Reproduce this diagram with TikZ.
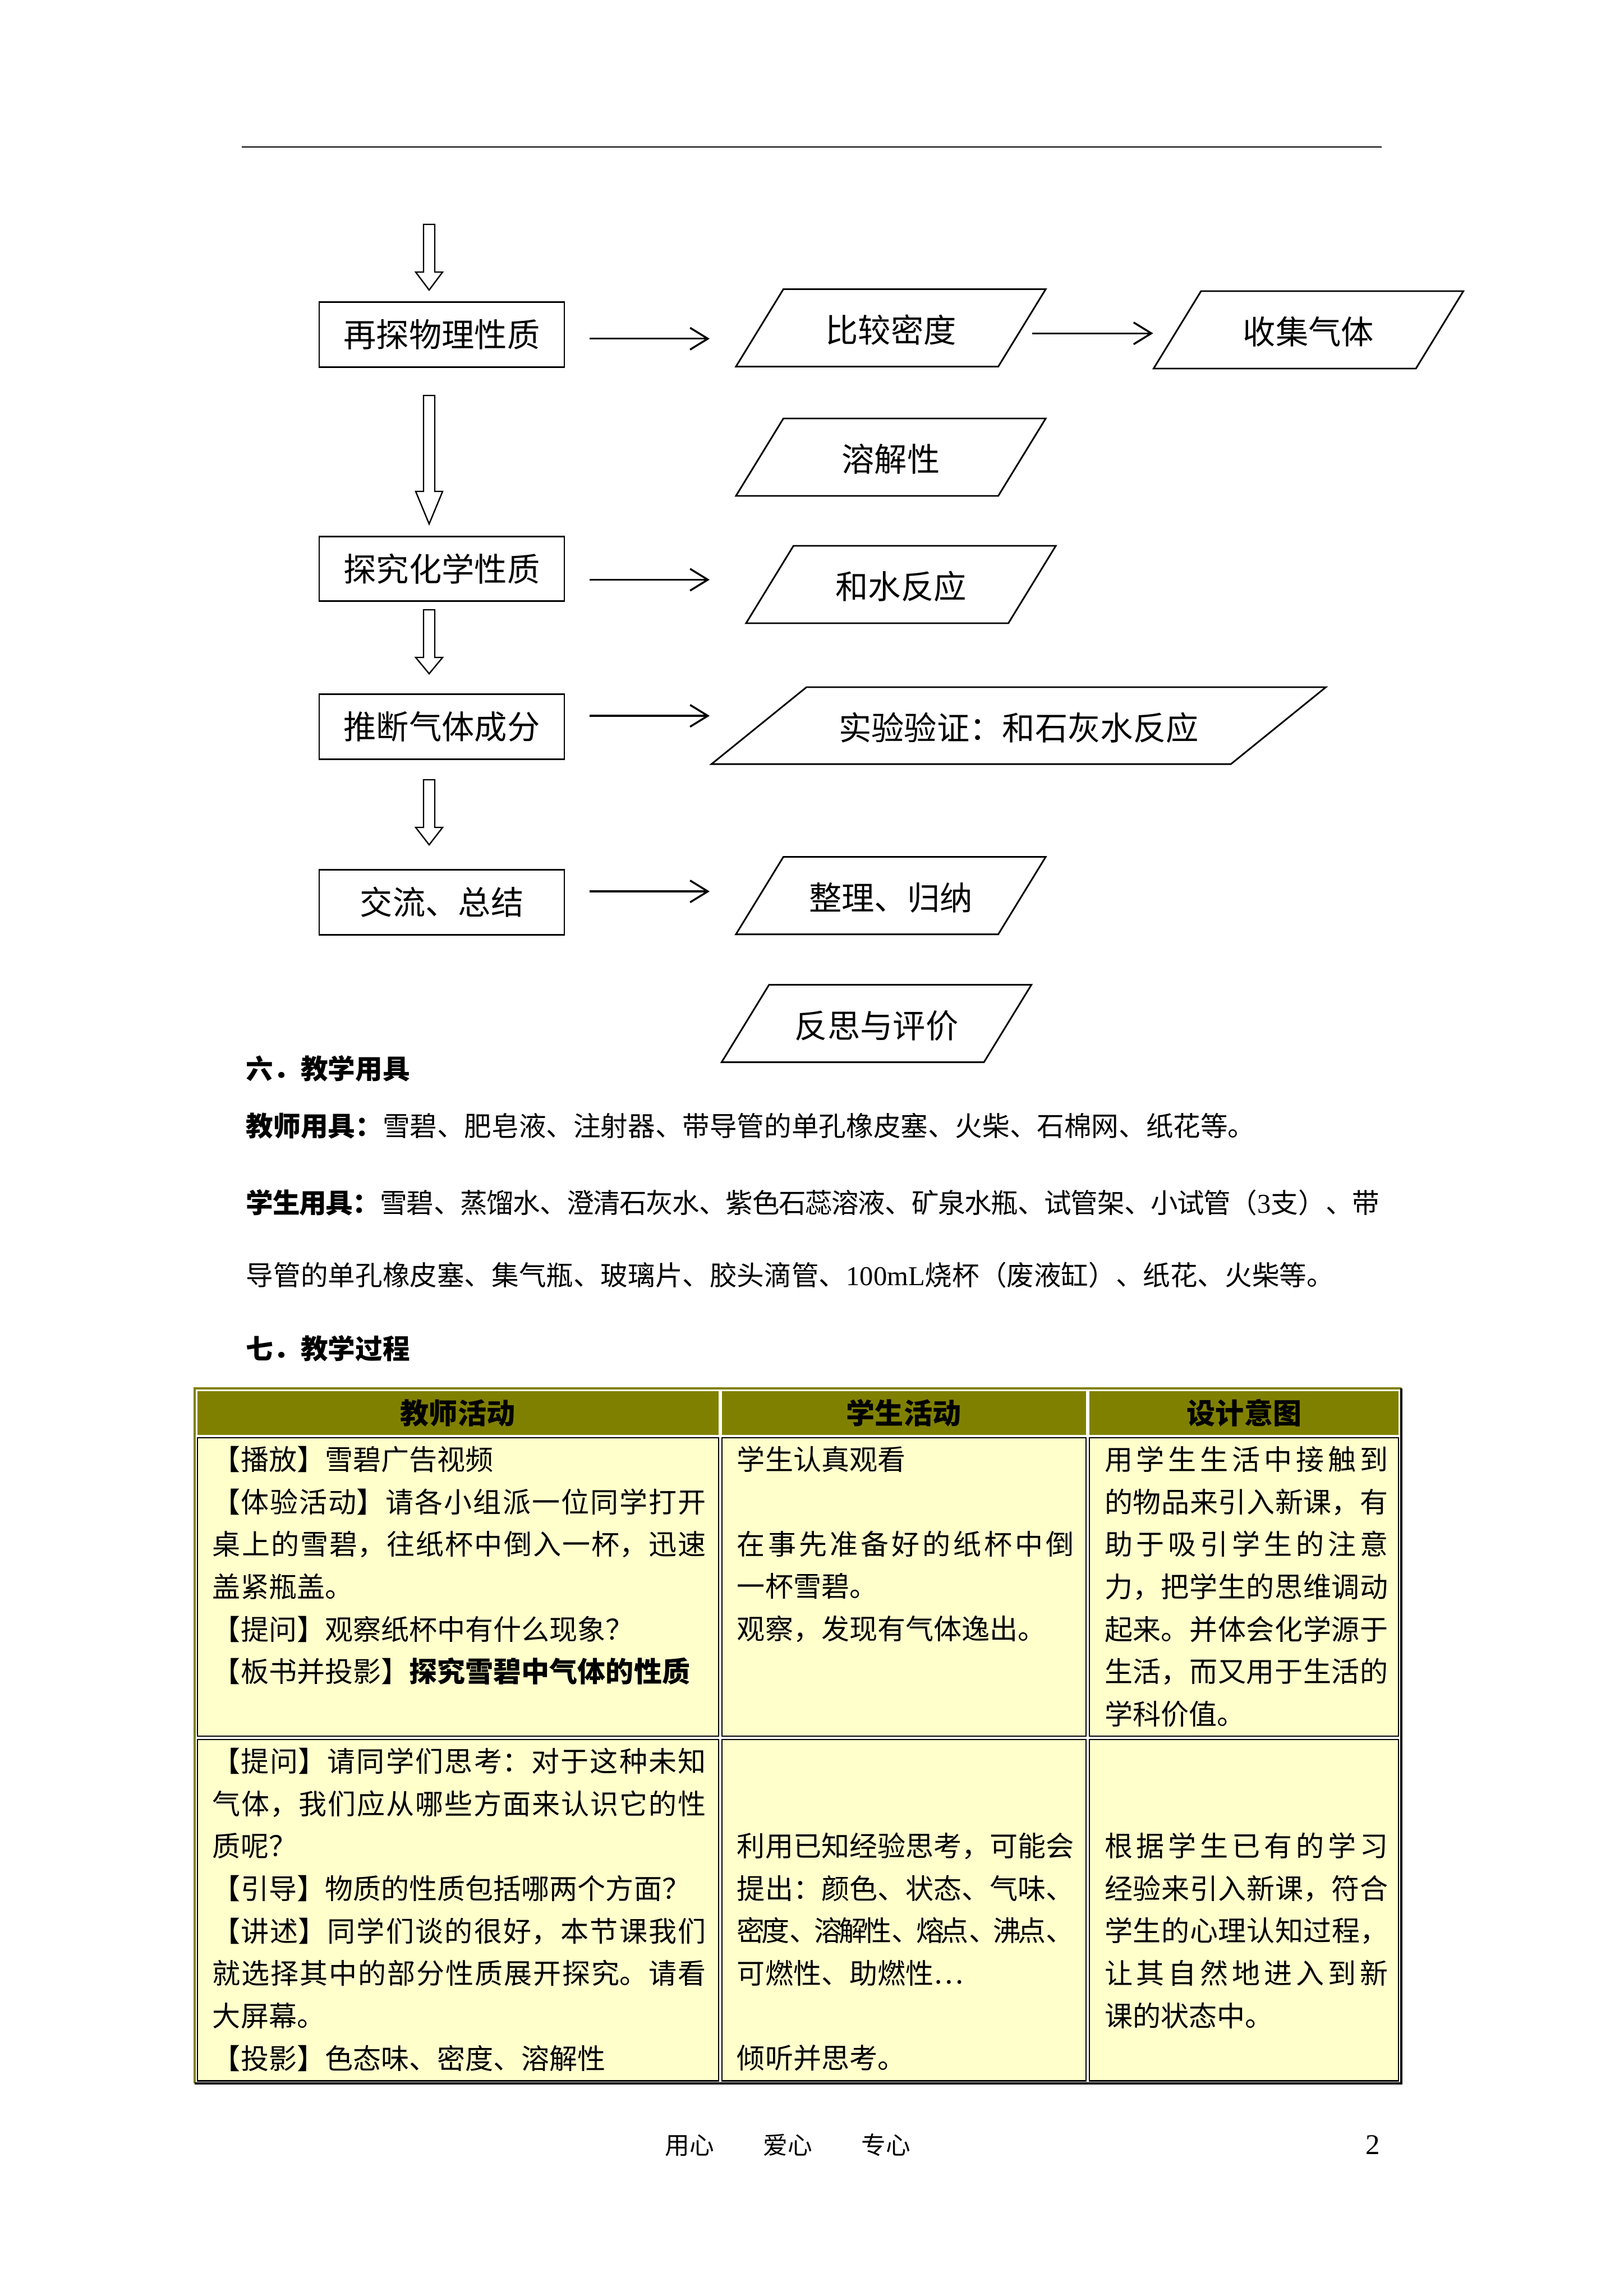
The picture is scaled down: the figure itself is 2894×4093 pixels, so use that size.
\documentclass[tikz,border=0pt]{standalone}
\usepackage{fontspec}
\setmainfont{Noto Sans CJK SC}
\newfontfamily\latin{Liberation Serif}
\XeTeXlinebreaklocale "zh"
\XeTeXlinebreakskip=0pt plus 2pt minus 1.5pt
\usepackage{tikz}
\usetikzlibrary{arrows.meta, positioning, shapes.geometric, calc}
\definecolor{olivehd}{RGB}{128,128,0}
\definecolor{cellyel}{RGB}{255,255,204}
% hollow block arrow: top, tip, head length
\newcommand{\hollowdown}[3]{%
  \draw[hollowarr] ($(#1)+(-10,0)$) -- ($(#2)+(-10,-#3)$) -- ($(#2)+(-24,-#3)$) -- (#2)
    -- ($(#2)+(24,-#3)$) -- ($(#2)+(10,-#3)$) -- ($(#1)+(10,0)$) -- cycle;}

\begin{document}
\begin{tikzpicture}[x=0.20572pt, y=-0.20572pt,
  procbox/.style={draw, line width=0.6pt, minimum width=89.9pt, minimum height=23.7pt, inner sep=0pt, font=\fontsize{12pt}{14pt}\selectfont},
  databox/.style={trapezium, trapezium left angle=58.5, trapezium right angle=121.5, trapezium stretches body, draw, line width=0.6pt, minimum width=113.6pt, text height=10.5pt, text depth=0pt, inner xsep=0pt, inner ysep=8.95pt, font=\fontsize{12pt}{14pt}\selectfont},
  rarr/.style={-{Straight Barb[length=6.5pt,width=8pt]}, line width=0.7pt},
  hollowarr/.style={draw, line width=0.5pt, fill=white},
  bodytxt/.style={inner sep=0pt, font=\fontsize{10pt}{26.7pt}\selectfont},
  celltxt/.style={anchor=north west, inner sep=0pt, align=justify, font=\fontsize{10.3pt}{15.57pt}\selectfont},
  headtxt/.style={inner sep=0pt, font=\fontsize{10.5pt}{12pt}\selectfont\bfseries},
  bodycell/.style={fill=cellyel, draw=black, line width=0.6pt},
  headcell/.style={fill=olivehd}]
\useasboundingbox (0,0) rectangle (2894,4093);

% header rule
\draw[line width=0.6pt] (431,262) -- (2463,262);

% flow chart
\node[procbox] (phys) at (787.5,596.5) {再探物理性质};
\node[procbox] (chem) at (787.5,1014) {探究化学性质};
\node[procbox] (infer) at (787.5,1295.5) {推断气体成分};
\node[procbox] (summ) at (787.5,1608.5) {交流、总结};

\node[databox] (dens) at (1588,584.5) {比较密度};
\node[databox] (gas) at (2332.5,588) {收集气体};
\node[databox] (sol) at (1588,815) {溶解性};
\node[databox] (water) at (1606,1042) {和水反应};
\node[databox, trapezium left angle=39, trapezium right angle=141, minimum width=225.3pt, inner ysep=8.85pt] (lime) at (1816,1293.5) {实验验证：和石灰水反应};
\node[databox] (sort) at (1588,1596.5) {整理、归纳};
\node[databox] (refl) at (1562.5,1824.5) {反思与评价};

\coordinate (d1s) at (765,400);
\coordinate (d1e) at (765,517);
\coordinate (d2s) at (765,705);
\coordinate (d2e) at (765,934);
\coordinate (d3s) at (765,1087);
\coordinate (d3e) at (765,1201);
\coordinate (d4s) at (765,1390);
\coordinate (d4e) at (765,1506);
\hollowdown{d1s}{d1e}{32}
\hollowdown{d2s}{d2e}{58}
\hollowdown{d3s}{d3e}{29}
\hollowdown{d4s}{d4e}{31}

\coordinate (rend) at (1265,0);
\draw[rarr, shorten <=9pt] ([yshift=-1.5pt]phys.east) -- ([yshift=-1.5pt]phys.east -| rend);
\draw[rarr, shorten <=3.4pt, shorten >=8.5pt] ([yshift=-2pt]dens.east) -- ([yshift=-2pt]dens.east -| gas.west);
\draw[rarr, shorten <=9pt] ([yshift=-4pt]chem.east) -- ([yshift=-4pt]chem.east -| rend);
\draw[rarr, shorten <=9pt] ([yshift=4pt]infer.east) -- ([yshift=4pt]infer.east -| rend);
\draw[rarr, shorten <=9pt] ([yshift=4pt]summ.east) -- ([yshift=4pt]summ.east -| rend);

% section text
\node[bodytxt, anchor=west] (sec6) at (438,1905) {\bfseries 六．教学用具};
\node[bodytxt, anchor=west] (tools1) at (438,2007) {\textbf{教师用具：}雪碧、肥皂液、注射器、带导管的单孔橡皮塞、火柴、石棉网、纸花等。};
\node[bodytxt, anchor=north west, text width=415.5pt, align=justify] (tools2) at (438,2119) {\textbf{学生用具：}雪碧、蒸馏水、澄清石灰水、紫色石蕊溶液、矿泉水瓶、试管架、小试管（{\latin 3}支）、带\linebreak 导管的单孔橡皮塞、集气瓶、玻璃片、胶头滴管、{\latin 100mL}烧杯（废液缸）、纸花、火柴等。};
\node[bodytxt, anchor=west] (sec7) at (438,2404) {\bfseries 七．教学过程};

% table
\draw[olivehd, line width=0.8pt] (347,3714) -- (347,2475) -- (2498,2475);
\draw[black, line width=0.8pt] (2498,2475) -- (2498,3714) -- (347,3714);
\fill[headcell] (352,2480) rectangle (1281,2558);
\fill[headcell] (1287,2480) rectangle (1936,2558);
\fill[headcell] (1942,2480) rectangle (2493,2558);
\draw[bodycell] (352,2563) rectangle (1281,3095);
\draw[bodycell] (1287,2563) rectangle (1936,3095);
\draw[bodycell] (1942,2563) rectangle (2493,3095);
\draw[bodycell] (352,3101) rectangle (1281,3709);
\draw[bodycell] (1287,3101) rectangle (1936,3709);
\draw[bodycell] (1942,3101) rectangle (2493,3709);

\node[headtxt] (hteach) at (816,2519) {教师活动};
\node[headtxt] (hstud) at (1611,2519) {学生活动};
\node[headtxt] (haim) at (2218,2519) {设计意图};

\node[celltxt, text width=181pt] (t1) at (378,2577) {【播放】雪碧广告视频\\
【体验活动】请各小组派一位同学打开\linebreak
桌上的雪碧，往纸杯中倒入一杯，迅速\linebreak
盖紧瓶盖。\\
【提问】观察纸杯中有什么现象？\\
【板书并投影】\textbf{探究雪碧中气体的性质}};
\node[celltxt, text width=123.6pt] (s1a) at (1313,2577) {学生认真观看};
\node[celltxt, text width=123.6pt] (s1b) at (1313,2728) {在事先准备好的纸杯中倒\linebreak
一杯雪碧。\\
观察，发现有气体逸出。};
\node[celltxt, text width=104pt] (a1) at (1968,2577) {用学生生活中接触到\linebreak
的物品来引入新课，有\linebreak
助于吸引学生的注意\linebreak
力，把学生的思维调动\linebreak
起来。并体会化学源于\linebreak
生活，而又用于生活的\linebreak
学科价值。};

\node[celltxt, text width=181pt] (t2) at (378,3115) {【提问】请同学们思考：对于这种未知\linebreak
气体，我们应从哪些方面来认识它的性\linebreak
质呢？\\
【引导】物质的性质包括哪两个方面？\\
【讲述】同学们谈的很好，本节课我们\linebreak
就选择其中的部分性质展开探究。请看\linebreak
大屏幕。\\
【投影】色态味、密度、溶解性};
\node[celltxt, text width=123.6pt] (s2a) at (1313,3266) {利用已知经验思考，可能会\linebreak
提出：颜色、状态、气味、\linebreak
密度、溶解性、熔点、沸点、\linebreak
可燃性、助燃性…};
\node[celltxt, text width=123.6pt] (s2b) at (1313,3644) {倾听并思考。};
\node[celltxt, text width=104pt] (a2) at (1968,3266) {根据学生已有的学习\linebreak
经验来引入新课，符合\linebreak
学生的心理认知过程，\linebreak
让其自然地进入到新\linebreak
课的状态中。};

% footer
\node[inner sep=0pt, anchor=west, font=\fontsize{9pt}{11pt}\selectfont] (foot) at (1185,3824) {用心　　爱心　　专心};
\node[inner sep=0pt, font=\fontsize{10.5pt}{12pt}\selectfont\latin] (pnum) at (2447,3824) {2};
\end{tikzpicture}
\end{document}
